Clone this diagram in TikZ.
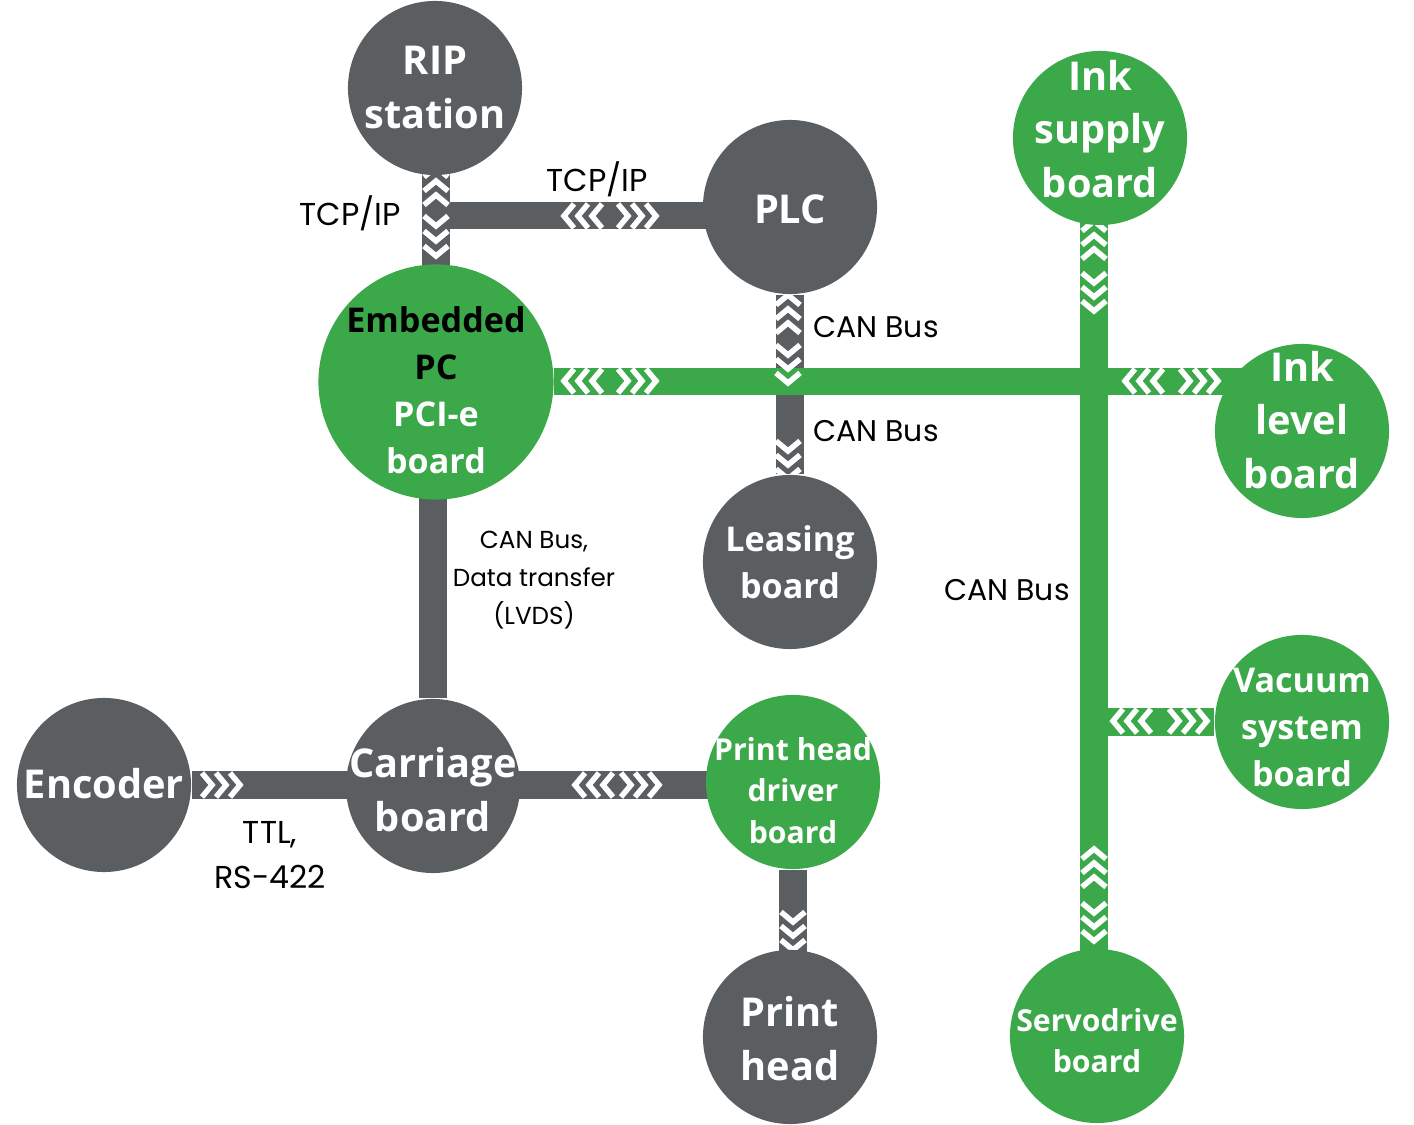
\documentclass[tikz,border=0pt]{standalone}
\usepackage{fontspec}
\setmainfont{Open Sans}
\newfontfamily\labelfont{Poppins}
\usetikzlibrary{calc}
\pgfdeclarelayer{bg}
\pgfsetlayers{bg,main}
\definecolor{unitgray}{RGB}{91,94,97}
\definecolor{unitgreen}{RGB}{59,168,74}
% text lines of a unit, optional lift in cm
\newcommand\unittext[2][0]{\raisebox{\dimexpr #1cm - 3.6pt\relax}[0pt][0pt]{\begin{tabular}{@{}c@{}}#2\end{tabular}}}
\tikzset{
  unit/.style={circle, inner sep=-10pt, minimum size=1.74cm, text=white,
    font=\bfseries\fontsize{11.3}{15.2}\selectfont},
  grayunit/.style={unit, fill=unitgray},
  greenunit/.style={unit, fill=unitgreen},
  midtext/.style={font=\bfseries\fontsize{9.7}{13.4}\selectfont},
  smalltext/.style={font=\bfseries\fontsize{8.6}{11.7}\selectfont},
  graybar/.style={draw=unitgray, line width=0.27cm},
  greenbar/.style={draw=unitgreen, line width=0.27cm},
  chevline/.style={white, line width=0.055cm, line join=miter},
  chev/.pic={\draw[chevline] (-10,-12) -- (0,0) -- (-10,12);},
  lbl/.style={font=\labelfont\fontsize{8.5}{12.8}\selectfont, align=center}
}

\begin{document}
\begin{tikzpicture}[x=0.01cm, y=-0.01cm]
			%%%%% START %%%%%
			\useasboundingbox (0,0) rectangle (1414,1125);
			
			\node[grayunit] (rip) at (435,88) {\unittext{RIP\\station}};
			\node[grayunit] (plc) at (790,207) {\unittext[-0.03]{PLC}};
			\node[greenunit, midtext, minimum size=2.35cm] (epc) at (436,382)
				{\unittext[-0.08]{\textcolor{black}{Embedded}\\\textcolor{black}{PC}\\PCI-e\\board}};
			\node[greenunit] (supply) at (1100,138) {\unittext[0.08]{Ink\\supply\\board}};
			\node[greenunit] (level) at (1302,431) {\unittext[0.1]{Ink\\level\\board}};
			\node[grayunit, midtext] (leasing) at (790,562) {\unittext{Leasing\\board}};
			\node[greenunit, midtext] (vacuum) at (1302,722) {\unittext[-0.04]{Vacuum\\system\\board}};
			\node[grayunit] (encoder) at (104,785) {\unittext{Encoder}};
			\node[grayunit] (carriage) at (433,786) {\unittext[-0.05]{Carriage\\board}};
			\node[greenunit, smalltext] (driver) at (793,782)
				{\unittext[-0.07]{Print head\\driver\hspace{0.16cm}\\board}};
			\node[grayunit] (head) at (790,1037) {\unittext[-0.03]{Print\\head}};
			\node[greenunit, smalltext] (servo) at (1097,1036) {\unittext[-0.03]{Servodrive\\board}};
			
			\coordinate (tcp) at (436,216);
			\coordinate (gx) at (1094,0);
			
			\begin{pgfonlayer}{bg}
				% gray links
				\draw[graybar] (tcp |- rip) -- (tcp |- epc);
				\draw[graybar] (tcp) -- (tcp -| plc);
				\draw[graybar] (plc) -- (leasing);
				\draw[graybar] (carriage |- epc) -- (carriage);
				\draw[graybar] (encoder) -- (encoder -| driver);
				\draw[graybar] (driver) -- (driver |- head);
				% green links
				\draw[greenbar] (epc) -- (epc -| level);
				\draw[greenbar] (gx |- supply) -- (gx |- servo);
				\draw[greenbar] (gx |- vacuum) -- (vacuum);
				
				% chevrons
				\foreach \y in {167,181,195} \pic[rotate=90] at (436,\y) {chev};
				\foreach \y in {226,241,256} \pic[rotate=-90] at (436,\y) {chev};
				\foreach \x in {564,578,592} \pic[rotate=180] at (\x,216) {chev};
				\foreach \x in {628,642,656} \pic at (\x,216) {chev};
				
				\foreach \y in {295,309,323} \pic[rotate=90] at (788,\y) {chev};
				\foreach \y in {355,369,383} \pic[rotate=-90] at (788,\y) {chev};
				\foreach \y in {451,465,479} \pic[rotate=-90] at (788,\y) {chev};
				
				\foreach \x in {564,578,592} \pic[rotate=180] at (\x,381) {chev};
				\foreach \x in {628,642,656} \pic at (\x,381) {chev};
				\foreach \x in {1125,1139,1153} \pic[rotate=180] at (\x,381) {chev};
				\foreach \x in {1190,1204,1218} \pic at (\x,381) {chev};
				
				\foreach \y in {221,235,249} \pic[rotate=90] at (1094,\y) {chev};
				\foreach \y in {283,297,311} \pic[rotate=-90] at (1094,\y) {chev};
				\foreach \y in {849,863,877} \pic[rotate=90] at (1094,\y) {chev};
				\foreach \y in {913,927,941} \pic[rotate=-90] at (1094,\y) {chev};
				
				\foreach \x in {1113,1127,1141} \pic[rotate=180] at (\x,721) {chev};
				\foreach \x in {1179,1193,1207} \pic at (\x,721) {chev};
				
				\foreach \x in {212,226,240} \pic at (\x,785) {chev};
				\foreach \x in {575,589,603} \pic[rotate=180] at (\x,785) {chev};
				\foreach \x in {631,645,659} \pic at (\x,785) {chev};
				
				\foreach \y in {922,936,950} \pic[rotate=-90] at (793,\y) {chev};
			\end{pgfonlayer}
			
			\node[lbl, font=\labelfont\fontsize{9}{12.8}\selectfont] (tcpa) at (350,213) {TCP/IP};
			\node[lbl, font=\labelfont\fontsize{9}{12.8}\selectfont] (tcpb) at (597,179) {TCP/IP};
			\node[lbl] (cana) at (876,327) {CAN Bus};
			\node[lbl] (canb) at (876,431) {CAN Bus};
			\node[lbl, font=\labelfont\fontsize{7}{10.8}\selectfont] (lvds) at (534,580)
				{CAN Bus,\\Data transfer\\(LVDS)};
			\node[lbl] (canc) at (1007,590) {CAN Bus};
			\node[lbl, font=\labelfont\fontsize{9}{12.8}\selectfont] (ttl) at (270,855) {TTL,\\RS-422};
			
			%%%%% END %%%%%
\end{tikzpicture}
\end{document}
